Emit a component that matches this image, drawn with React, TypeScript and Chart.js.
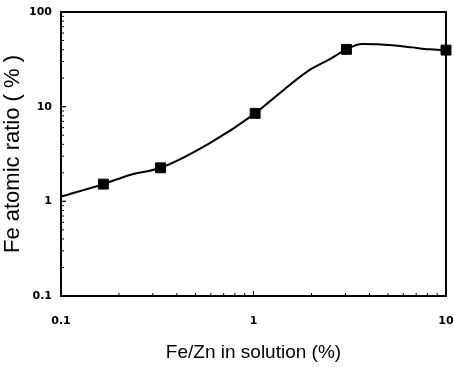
import React, { useEffect, useRef } from "react";
import { Chart, registerables } from "chart.js";

Chart.register(...registerables);

const markerX = [0.166, 0.329, 1.02, 3.04, 10];
const markerY = [1.52, 2.26, 8.5, 40.3, 39.6];

const curveX = [0.1, 0.166, 0.228, 0.329, 0.59, 1.02, 1.21, 1.95, 2.48, 3.04, 3.67, 5.25, 6.67, 8.2, 10];
const curveY = [1.12, 1.52, 1.9, 2.26, 4.1, 8.5, 11.3, 24.3, 31.6, 40.3, 45.8, 44.6, 42.3, 40.3, 39.6];

const xTickLabels = [0.1, 1, 10];
const yTickLabels = [0.1, 1, 10, 100];

const xTitle = "Fe/Zn in solution (%)";
const yTitle = "Fe atomic ratio ( % )";

const framePlugin = {
  id: "frame",
  afterDraw(chart: any) {
    const { ctx, chartArea } = chart;
    const { left, right, top, bottom } = chartArea;
    ctx.save();
    ctx.strokeStyle = "#000";
    ctx.lineWidth = 2;
    ctx.strokeRect(left, top, right - left, bottom - top);
    ctx.lineWidth = 1;
    const xs = chart.scales.x;
    const ys = chart.scales.y;
    for (let d = 0.1; d < 10; d *= 10) {
      for (let m = 1; m <= 10; m++) {
        const px = xs.getPixelForValue(d * m);
        const len = m === 1 || m === 10 ? 5 : 3;
        ctx.beginPath();
        ctx.moveTo(px, bottom);
        ctx.lineTo(px, bottom - len);
        ctx.stroke();
      }
    }
    for (let d = 0.1; d < 100; d *= 10) {
      for (let m = 1; m <= 10; m++) {
        const py = ys.getPixelForValue(d * m);
        const len = m === 1 || m === 10 ? 5 : 3;
        ctx.beginPath();
        ctx.moveTo(left, py);
        ctx.lineTo(left + len, py);
        ctx.stroke();
      }
    }
    ctx.restore();
  },
};

const zeroPad = (s: any) => {
  s.paddingLeft = 0;
  s.paddingRight = 0;
  s.paddingTop = 0;
  s.paddingBottom = 0;
};

export default function App() {
  const ref = useRef<HTMLCanvasElement | null>(null);
  useEffect(() => {
    document.body.style.margin = "0";
    const canvas = ref.current!;
    const chart = new Chart(canvas, {
      type: "line",
      data: {
        datasets: [
          {
            data: curveX.map((x, i) => ({ x, y: curveY[i] })),
            borderColor: "#000",
            borderWidth: 2,
            pointRadius: 0,
            cubicInterpolationMode: "monotone",
            fill: false,
          },
          {
            data: markerX.map((x, i) => ({ x, y: markerY[i] })),
            showLine: false,
            pointStyle: "rect",
            pointRadius: 7,
            pointBackgroundColor: "#000",
            pointBorderColor: "#000",
            pointBorderWidth: 1,
          },
        ],
      },
      options: {
        animation: false,
        responsive: false,
        maintainAspectRatio: false,
        clip: false,
        layout: { padding: { left: 0, top: 12, right: 7, bottom: 0 } },
        plugins: { legend: { display: false }, tooltip: { enabled: false } },
        scales: {
          x: {
            type: "logarithmic",
            min: 0.1,
            max: 10,
            afterFit: (s: any) => {
              s.height = 71;
              zeroPad(s);
            },
            afterBuildTicks: (s: any) => {
              s.ticks = xTickLabels.map((v) => ({ value: v }));
            },
            grid: { display: false, drawTicks: false },
            border: { display: false },
            ticks: {
              autoSkip: false,
              maxRotation: 0,
              padding: 19,
              color: "#000",
              font: { family: "DejaVu Sans, sans-serif", size: 11, weight: "bold" },
              callback: (v: any) => String(v),
            },
            title: {
              display: true,
              text: xTitle,
              color: "#000",
              font: { family: "Liberation Sans, Arial, sans-serif", size: 19 },
              padding: { top: 0, bottom: 3 },
            },
          },
          y: {
            type: "logarithmic",
            min: 0.1,
            max: 100,
            afterFit: (s: any) => {
              s.width = 61;
              zeroPad(s);
            },
            afterBuildTicks: (s: any) => {
              s.ticks = yTickLabels.map((v) => ({ value: v }));
            },
            grid: { display: false, drawTicks: false },
            border: { display: false },
            ticks: {
              autoSkip: false,
              padding: 9,
              color: "#000",
              font: { family: "DejaVu Sans, sans-serif", size: 11, weight: "bold" },
              callback: (v: any) => String(v),
            },
            title: {
              display: true,
              text: yTitle,
              color: "#000",
              font: { family: "Liberation Sans, Arial, sans-serif", size: 22 },
              padding: { top: 0, bottom: 0 },
            },
          },
        },
      },
      plugins: [framePlugin],
    } as any);
    return () => chart.destroy();
  }, []);
  return (
    <div style={{ position: "relative", width: 454, height: 367, background: "#fff" }}>
      <canvas ref={ref} width={454} height={367} style={{ display: "block" }} />
    </div>
  );
}
